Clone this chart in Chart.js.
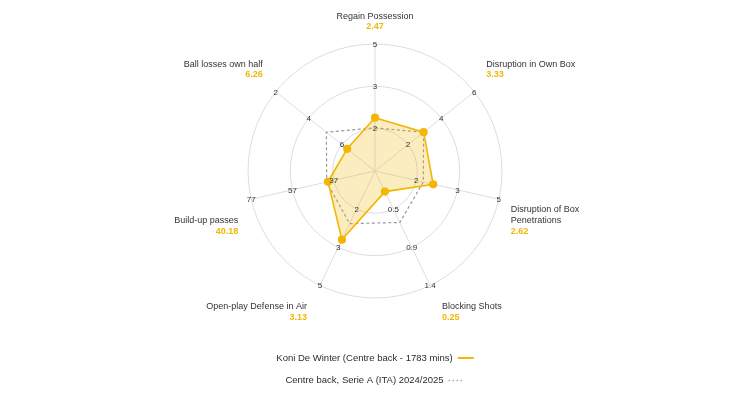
<!DOCTYPE html>
<html>
<head>
<meta charset="utf-8">
<script src="https://cdn.jsdelivr.net/npm/chart.js@4.4.1/dist/chart.umd.min.js"></script>
<style>
  html, body { margin: 0; padding: 0; background: #fff; }
  #wrap { position: relative; width: 750px; height: 403px; }
</style>
</head>
<body>
<div id="wrap"><canvas id="radar"></canvas></div>
<script>
// ============================================
// Data
// ============================================

const categories = [
    ['Regain Possession'],
    ['Disruption in Own Box'],
    ['Disruption of Box', 'Penetrations'],
    ['Blocking Shots'],
    ['Open-play Defense in Air'],
    ['Build-up passes'],
    ['Ball losses own half']
];

// raw values shown under each axis name
const playerValues = ['2.47', '3.33', '2.62', '0.25', '3.13', '40.18', '6.26'];

// plotted position on each axis (percentile, 0-100)
const playerPercentiles = [42, 49, 47, 18, 60, 38, 28];
const averagePercentiles = [34, 49, 39, 45, 46, 39, 49];

// tick labels per axis, inner ring -> outer ring
const axisTicks = [
    ['2', '3', '5'],
    ['2', '4', '6'],
    ['2', '3', '5'],
    ['0.5', '0.9', '1.4'],
    ['2', '3', '5'],
    ['37', '57', '77'],
    ['6', '4', '2']
];

const seriesLabels = [
    'Koni De Winter (Centre back - 1783 mins)',
    'Centre back, Serie A (ITA) 2024/2025'
];

// ============================================
// Styles
// ============================================

const YELLOW = '#f2b705';
const TEXT = '#333';
const GRID = '#d9dde6';
const FONT = '"Liberation Sans", Arial, sans-serif';
const RINGS = [100 / 3, 200 / 3, 100];

/**
 * Rings at the three percentile levels (drawn under the datasets)
 */
const radarRings = {
    id: 'radarRings',
    beforeDatasetsDraw(chart) {
        const ctx = chart.ctx;
        const r = chart.scales.r;
        ctx.save();
        ctx.strokeStyle = GRID;
        ctx.lineWidth = 1;
        RINGS.forEach(v => {
            ctx.beginPath();
            ctx.arc(r.xCenter, r.yCenter, r.getDistanceFromCenterForValue(v), 0, Math.PI * 2);
            ctx.stroke();
        });
        ctx.restore();
    }
};

/**
 * Axis names, values, per-axis ticks and the legend
 */
const radarText = {
    id: 'radarText',
    afterDatasetsDraw(chart) {
        const ctx = chart.ctx;
        const r = chart.scales.r;
        const cx = r.xCenter, cy = r.yCenter;

        ctx.save();
        ctx.textBaseline = 'middle';

        // tick labels on the spokes
        ctx.font = '8px ' + FONT;
        ctx.fillStyle = TEXT;
        ctx.textAlign = 'center';
        axisTicks.forEach((ticks, i) => {
            ticks.forEach((t, j) => {
                const p = r.getPointPosition(i, r.getDistanceFromCenterForValue(RINGS[j]));
                ctx.fillText(t, p.x, p.y + 0.5);
            });
        });

        // axis names + player value
        const lineH = 10.8;
        categories.forEach((name, i) => {
            const p = r.getPointPosition(i, r.drawingArea);
            let x = p.x;
            if (Math.abs(p.x - cx) < 1) {
                ctx.textAlign = 'center';
            } else if (p.x > cx) {
                ctx.textAlign = 'left';
                x = p.x + 12;
            } else {
                ctx.textAlign = 'right';
                x = p.x - 13;
            }
            const n = name.length + 1;
            let y;
            if (p.y < cy) {
                y = p.y - 17 - (n - 1) * lineH;
            } else {
                y = p.y + 21.5 - (n - 2) * lineH;
            }
            ctx.font = '9px ' + FONT;
            ctx.fillStyle = TEXT;
            name.forEach((line, k) => ctx.fillText(line, x, y + k * lineH));
            ctx.font = 'bold 9px ' + FONT;
            ctx.fillStyle = YELLOW;
            ctx.fillText(playerValues[i], x, y + name.length * lineH);
        });

        // legend (text then marker, centred)
        ctx.font = '9.5px ' + FONT;
        ctx.fillStyle = '#2b2b2b';
        ctx.textAlign = 'left';
        const rows = [358, 380.5];
        seriesLabels.forEach((label, i) => {
            const w = ctx.measureText(label).width;
            const total = w + 5 + 16;
            const x0 = chart.width / 2 - total / 2;
            ctx.fillText(label, x0, rows[i]);
            ctx.beginPath();
            if (i === 0) {
                ctx.strokeStyle = YELLOW;
                ctx.lineWidth = 2;
                ctx.setLineDash([]);
            } else {
                ctx.strokeStyle = '#aaa';
                ctx.lineWidth = 1.5;
                ctx.setLineDash([1.5, 2.5]);
            }
            ctx.moveTo(x0 + w + 5, rows[i]);
            ctx.lineTo(x0 + w + 21, rows[i]);
            ctx.stroke();
        });
        ctx.restore();
    }
};

new Chart(document.getElementById('radar'), {
    type: 'radar',
    data: {
        labels: categories,
        datasets: [
            {
                label: seriesLabels[0],
                data: playerPercentiles,
                borderColor: YELLOW,
                backgroundColor: 'rgba(242, 183, 5, 0.25)',
                borderWidth: 1.6,
                pointRadius: 3.3,
                pointBackgroundColor: YELLOW,
                pointBorderColor: YELLOW,
                fill: true,
                order: 1
            },
            {
                label: seriesLabels[1],
                data: averagePercentiles,
                borderColor: '#999',
                borderWidth: 1.2,
                borderDash: [3, 2.5],
                pointRadius: 0,
                fill: false,
                order: 2
            }
        ]
    },
    options: {
        responsive: true,
        maintainAspectRatio: false,
        animation: false,
        layout: { padding: { top: 44, bottom: 105, left: 0, right: 0 } },
        plugins: {
            legend: { display: false },
            tooltip: { enabled: false }
        },
        elements: { line: { tension: 0 } },
        scales: {
            r: {
                min: 0,
                max: 100,
                ticks: { display: false, stepSize: 100 / 3 },
                pointLabels: { display: false },
                grid: { display: false },
                angleLines: { color: GRID, lineWidth: 1 }
            }
        }
    },
    plugins: [radarRings, radarText]
});
</script>
</body>
</html>
